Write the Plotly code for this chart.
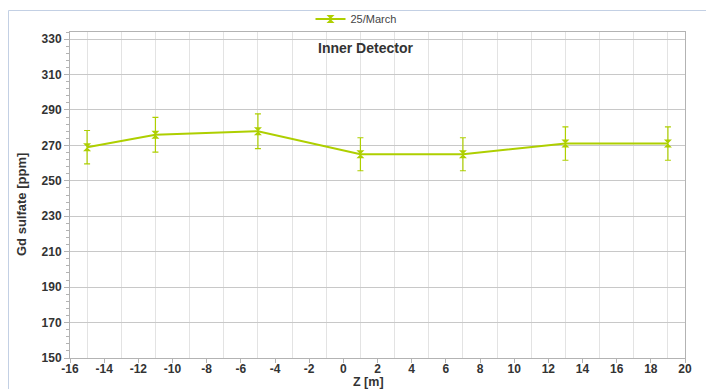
import plotly.graph_objects as go

# Gd sulfate concentration along the detector axis
z_positions = [-15, -11, -5, 1, 7, 13, 19]
gd_ppm = [269, 276, 278, 265, 265, 271, 271]
gd_err = [9.4, 9.8, 9.8, 9.3, 9.3, 9.4, 9.4]

series_name = "25/March"
chart_title = "Inner Detector"
x_title = "Z [m]"
y_title = "Gd sulfate [ppm]"

x_ticks = list(range(-16, 21, 2))
x_tick_text = [str(v) for v in x_ticks]  # plain hyphen minus
x_grid = list(range(-15, 20, 2))
y_ticks = list(range(150, 331, 20))

GREEN = "#aecf00"
TEXT = "#333333"
FONT = "Liberation Sans"

fig = go.Figure()
fig.add_trace(go.Scatter(
    x=z_positions, y=gd_ppm, name=series_name,
    mode="lines+markers",
    line=dict(color=GREEN, width=2),
    marker=dict(symbol="hourglass", size=8, color=GREEN),
    error_y=dict(type="data", array=gd_err, visible=True,
                 color=GREEN, thickness=1.2, width=3),
))

W, H = 706, 389
L, R, T, B = 70, 21, 32, 31
pw, ph = W - L - R, H - T - B


def px_x(px):
    return (px - L) / pw


def px_y(py):
    return (H - B - py) / ph


fig.update_layout(
    width=W, height=H,
    margin=dict(l=L, r=R, t=T, b=B, autoexpand=False),
    paper_bgcolor="white", plot_bgcolor="white",
    font=dict(family=FONT, color=TEXT, size=12),
    showlegend=True,
    legend=dict(orientation="h", x=px_x(356), y=px_y(19),
                xanchor="center", yanchor="middle",
                font=dict(size=11, color="#444444"),
                itemwidth=30, bgcolor="rgba(0,0,0,0)"),
    xaxis=dict(
        range=[-16, 20], tickmode="array", tickvals=x_ticks,
        ticktext=x_tick_text,
        showgrid=False, zeroline=False, automargin=False,
        showline=True, linecolor="#b3b3b3", linewidth=1, mirror=True,
        ticks="outside", ticklen=4, tickcolor="#b3b3b3",
        ticklabelstandoff=-4,
        tickfont=dict(size=12, color=TEXT, family=FONT, weight="bold"),
        minor=dict(tickmode="array", tickvals=x_grid, showgrid=True,
                   gridcolor="#e3e3e3", gridwidth=1, ticks=""),
    ),
    yaxis=dict(
        range=[150, 334], tickmode="array", tickvals=y_ticks,
        showgrid=True, gridcolor="#c8c8c8", gridwidth=1, zeroline=False,
        automargin=False,
        showline=True, linecolor="#b3b3b3", linewidth=1, mirror=True,
        ticks="outside", ticklen=5, tickcolor="#b3b3b3",
        tickfont=dict(size=12, color=TEXT, family=FONT, weight="bold"),
        minor=dict(dtick=4, tick0=150, ticks="outside", ticklen=3,
                   tickcolor="#b3b3b3", showgrid=False),
    ),
    annotations=[
        dict(text=chart_title, xref="paper", yref="paper",
             x=px_x(365), y=px_y(48), showarrow=False,
             xanchor="center", yanchor="middle",
             font=dict(size=14, color=TEXT, family=FONT, weight="bold")),
        dict(text=x_title, xref="paper", yref="paper",
             x=px_x(368), y=px_y(382), showarrow=False,
             xanchor="center", yanchor="middle",
             font=dict(size=12.5, color=TEXT, family=FONT, weight="bold")),
        dict(text=y_title, xref="paper", yref="paper",
             x=px_x(21), y=px_y(204), showarrow=False, textangle=-90,
             xanchor="center", yanchor="middle",
             font=dict(size=13, color=TEXT, family=FONT, weight="bold")),
    ],
    shapes=[
        # outer page frame
        dict(type="line", xref="paper", yref="paper",
             x0=px_x(8.5), x1=px_x(8.5), y0=px_y(10.5), y1=px_y(H + 5),
             line=dict(color="#c3d0e4", width=1)),
        dict(type="line", xref="paper", yref="paper",
             x0=px_x(8.5), x1=px_x(W + 5), y0=px_y(10.5), y1=px_y(10.5),
             line=dict(color="#c3d0e4", width=1)),
    ],
)

fig.write_html("out.html")
